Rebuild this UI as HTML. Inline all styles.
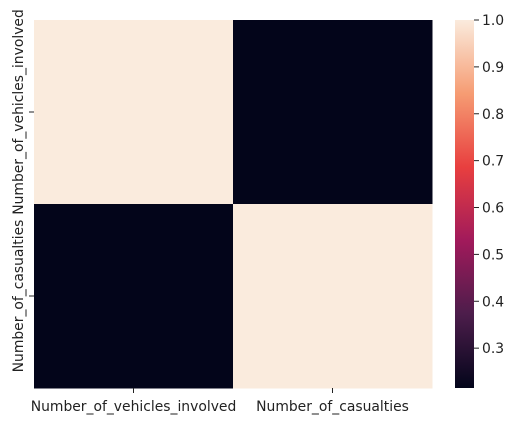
<!DOCTYPE html>
<html><head><meta charset="utf-8"><style>
body{margin:0;background:#fff;width:515px;height:423px;overflow:hidden}
svg text{font-family:"DejaVu Sans","Liberation Sans",sans-serif;font-size:13.9px;fill:#222}
</style></head><body>
<svg id="chart" width="515" height="423">
<defs><linearGradient id="rocket" x1="0" y1="1" x2="0" y2="0">
<stop offset="0" stop-color="#03051A"/><stop offset="0.2" stop-color="#4C1D4B"/><stop offset="0.4" stop-color="#A11A5B"/><stop offset="0.6" stop-color="#E83F3F"/><stop offset="0.8" stop-color="#F69C73"/><stop offset="1" stop-color="#FAEBDD"/></linearGradient></defs>
<g id="cells"></g><g id="axes"></g>
</svg>
<script>
const labels=["Number_of_vehicles_involved","Number_of_casualties"];
const values=[[1.0,0.215],[0.215,1.0]];
const cbTicks=[0.3,0.4,0.5,0.6,0.7,0.8,0.9,1.0];
const vmin=0.215,vmax=1.0;
const X0=34,X1=432,Y0=20,Y1=388,CX=455,CW=19;
const NS="http://www.w3.org/2000/svg";
const stops=[[0,[3,5,26]],[0.2,[76,29,75]],[0.4,[161,26,91]],[0.6,[232,63,63]],[0.8,[246,156,115]],[1,[250,235,221]]];
function color(v){let t=(v-vmin)/(vmax-vmin);t=Math.max(0,Math.min(1,t));
for(let i=1;i<stops.length;i++){if(t<=stops[i][0]){const a=stops[i-1],b=stops[i],f=(t-a[0])/(b[0]-a[0]);
return "rgb("+a[1].map((c,k)=>Math.round(c+(b[1][k]-c)*f)).join(",")+")";}}return "rgb(250,235,221)";}
function el(tag,at,parent,txt){const e=document.createElementNS(NS,tag);for(const k in at)e.setAttribute(k,at[k]);if(txt!==undefined)e.textContent=txt;parent.appendChild(e);return e;}
const n=labels.length,cw=(X1-X0)/n,ch=(Y1-Y0)/n;
const cells=document.getElementById('cells'),axes=document.getElementById('axes');
for(let r=0;r<n;r++)for(let c=0;c<n;c++){
const e=el('rect',{x:X0+c*cw,y:Y0+r*ch,width:cw+0.5,height:ch+0.5,fill:color(values[r][c])},cells);

}
for(let i=0;i<n;i++){
const cx=X0+(i+0.5)*cw;
el('line',{x1:cx,y1:Y1,x2:cx,y2:Y1+5,stroke:'#222'},axes);
const t=el('text',{x:cx,y:Y1+23,'text-anchor':'middle'},axes,labels[i]);


const cy=Y0+(i+0.5)*ch;
el('line',{x1:X0,y1:cy,x2:X0-5,y2:cy,stroke:'#222'},axes);
const u=el('text',{x:0,y:0,'text-anchor':'middle',transform:`translate(${X0-11},${cy}) rotate(-90)`},axes,labels[i]);

}
const cb=el('rect',{x:CX,y:Y0,width:CW,height:Y1-Y0,fill:'url(#rocket)'},axes);


const cy=v=>Y1-(v-vmin)/(vmax-vmin)*(Y1-Y0);
cbTicks.forEach(v=>{const y=cy(v);
el('line',{x1:CX+CW,y1:y,x2:CX+CW+5,y2:y,stroke:'#222'},axes);
const t=el('text',{x:CX+CW+8,y:y+5},axes,v.toFixed(1));

});
</script>
</body></html>
